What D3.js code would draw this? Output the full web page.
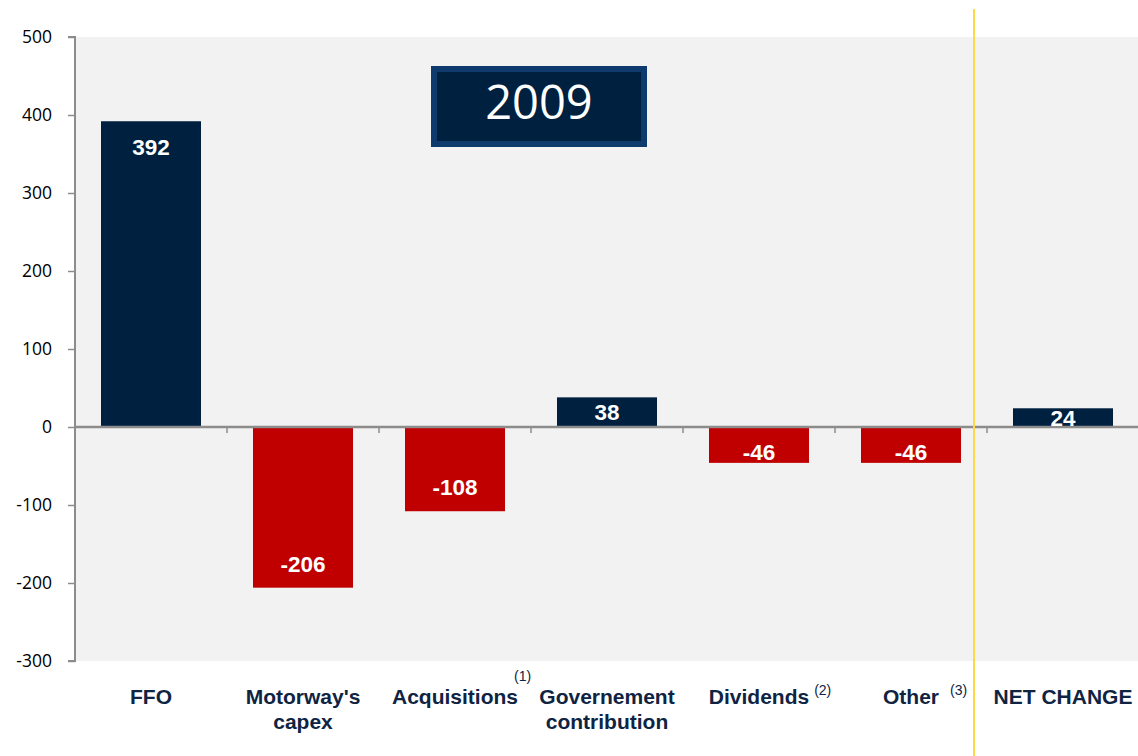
<!DOCTYPE html>
<html><head><meta charset="utf-8">
<script src="https://cdn.jsdelivr.net/npm/d3@7"></script>
<style>body{margin:0;background:#fff}svg{display:block}</style>
</head><body><svg id="c" width="1138" height="756"></svg>
<script>
const categories = ["FFO", "Motorway's capex", "Acquisitions", "Governement contribution", "Dividends", "Other", "NET CHANGE"];
const labelLines = [["FFO"], ["Motorway's", "capex"], ["Acquisitions"], ["Governement", "contribution"], ["Dividends"], ["Other"], ["NET CHANGE"]];
const footnotes = ["", "", "(1)", "", "(2)", "(3)", ""];
const values = [392, -206, -108, 38, -46, -46, 24];
const yTicks = [500, 400, 300, 200, 100, 0, -100, -200, -300];
const title = "2009";

const svg = d3.select("#c");
const M = {left: 75, right: 1139, top: 37, bottom: 661};
const x = d3.scaleBand().domain(categories).range([M.left, M.right]).paddingInner(0.342).paddingOuter(0.171);
const y = d3.scaleLinear().domain([-300, 500]).range([M.bottom, M.top]);

svg.append("rect").attr("x", M.left).attr("y", M.top).attr("width", 1138 - M.left).attr("height", M.bottom - M.top).attr("fill", "#f2f2f2");

// bars
svg.selectAll("rect.bar").data(values).join("rect")
  .attr("class", "bar")
  .attr("x", (d, i) => x(categories[i]))
  .attr("width", x.bandwidth())
  .attr("y", d => y(Math.max(0, d)))
  .attr("height", d => Math.abs(y(d) - y(0)))
  .attr("fill", d => d >= 0 ? "#002040" : "#c00000");

// zero line with ticks at band boundaries
svg.append("line").attr("x1", M.left).attr("x2", 1138).attr("y1", y(0)).attr("y2", y(0)).attr("stroke", "#8c8c8c").attr("stroke-width", 2.5);
const step = x.step();
d3.range(1, 7).forEach(k => {
  const bx = M.left + k * step;
  svg.append("line").attr("x1", bx).attr("x2", bx).attr("y1", y(0)).attr("y2", y(0) + 6).attr("stroke", "#8c8c8c").attr("stroke-width", 1.5);
});

// y axis
const ax = svg.append("g").attr("transform", `translate(${M.left},0)`)
  .call(d3.axisLeft(y).tickValues(yTicks).tickSize(7).tickPadding(16).tickFormat(d => String(d)));
ax.select(".domain").attr("stroke", "#8c8c8c").attr("stroke-width", 2).attr("d", `M-7,${M.top}H0V${M.bottom}H-7`);
ax.selectAll(".tick line").attr("stroke", "#8c8c8c").attr("stroke-width", 1.5);
ax.selectAll(".tick text").attr("font-family", "'Open Sans', sans-serif").attr("font-size", 17.5).attr("fill", "#000");

// value labels
svg.selectAll("text.val").data(values).join("text")
  .attr("class", "val")
  .attr("x", (d, i) => x(categories[i]) + x.bandwidth() / 2)
  .attr("y", d => {
    const h = Math.abs(y(d) - y(0));
    if (h >= 60) return d >= 0 ? y(d) + 26 : y(d) - 24;
    return d >= 0 ? y(d) + h / 2 : y(d) - 11;
  })
  .attr("dy", "0.36em")
  .attr("text-anchor", "middle")
  .attr("font-family", "'Liberation Sans', Arial, sans-serif")
  .attr("font-weight", "bold").attr("font-size", 22.5).attr("fill", "#fff")
  .text(d => d);

// yellow separator
const sepX = M.left + 6 * step - 13;
svg.append("line").attr("x1", sepX).attr("x2", sepX).attr("y1", 9).attr("y2", 756).attr("stroke", "#ffd84a").attr("stroke-width", 2);

// category labels
const lab = svg.selectAll("g.cat").data(categories).join("g").attr("class", "cat");
lab.each(function(c, i) {
  const g = d3.select(this);
  const cx = x(c) + x.bandwidth() / 2;
  const t = g.append("text").attr("x", cx).attr("y", 704).attr("text-anchor", "middle")
    .attr("font-family", "'Liberation Sans', Arial, sans-serif").attr("font-weight", "bold")
    .attr("font-size", 21).attr("fill", "#0f2442");
  labelLines[i].forEach((ln, j) => t.append("tspan").attr("x", cx).attr("dy", j === 0 ? 0 : 25).text(ln));
  if (footnotes[i]) {
    const w = t.node().getComputedTextLength();
    const end = cx + w / 2;
    const shift = {"(1)": -4, "(2)": 5, "(3)": 11}[footnotes[i]];
    const fy = footnotes[i] === "(1)" ? 681 : 695;
    g.append("text").attr("x", end + shift).attr("y", fy)
      .attr("font-family", "'Liberation Sans', Arial, sans-serif").attr("font-size", 14).attr("fill", "#0f2442")
      .text(footnotes[i]);
  }
});

// title box
svg.append("rect").attr("x", 434).attr("y", 69).attr("width", 210).attr("height", 75)
  .attr("fill", "#00203f").attr("stroke", "#0e3a6e").attr("stroke-width", 6);
svg.append("text").attr("x", 539).attr("y", 102).attr("dy", "0.36em").attr("text-anchor", "middle")
  .attr("font-family", "'Open Sans', sans-serif").attr("font-size", 47).attr("fill", "#fff").text(title);
</script></body></html>
